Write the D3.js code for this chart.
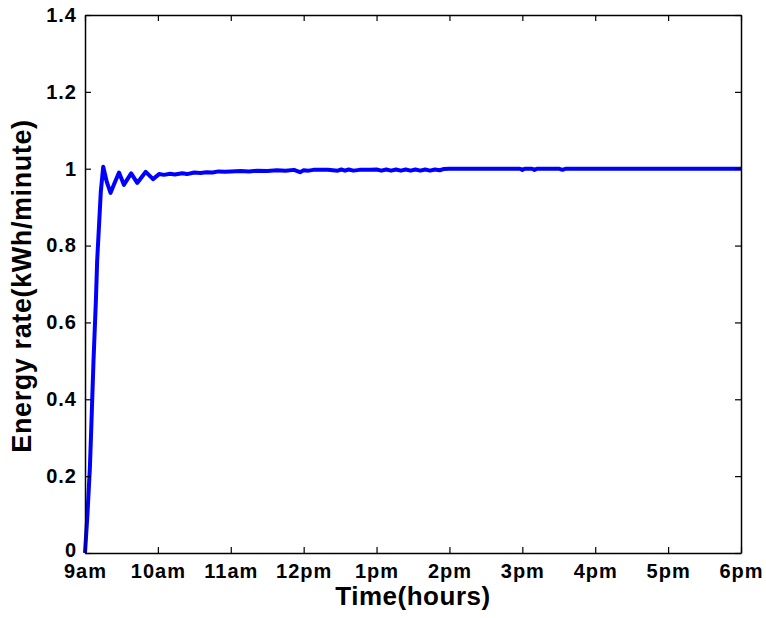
<!DOCTYPE html>
<html>
<head>
<meta charset="utf-8">
<script src="https://cdn.jsdelivr.net/npm/d3@7"></script>
<style>
  body { margin: 0; background: #fff; }
  text { font-family: "Liberation Sans", Arial, sans-serif; font-weight: bold; }
</style>
</head>
<body>
<svg id="canvas" width="766" height="618"></svg>
<script>
// minutes after 9am
let minutes = [0, 2, 4, 5, 7, 9, 10, 13, 15, 18, 21, 24, 28, 32, 38, 43, 50, 56, 61, 65,
  70, 74, 80, 84, 90, 95, 100, 105, 110, 115, 120, 128, 135, 142, 150, 158, 165, 172,
  177, 180, 184, 188, 192, 200, 208, 211, 214, 217, 221, 226, 235, 240, 244, 248, 252,
  256, 260, 264, 268, 272, 276, 280, 284, 288, 292, 295, 300, 330, 358, 360, 362, 368,
  370, 372, 390, 393, 396, 420, 480, 540];
let energyRate = [0, 0.1, 0.22, 0.31, 0.5, 0.66, 0.76, 0.94, 1.005, 0.965, 0.937, 0.96,
  0.99, 0.958, 0.988, 0.963, 0.992, 0.973, 0.986, 0.984, 0.987, 0.985, 0.988, 0.986,
  0.99, 0.989, 0.991, 0.99, 0.993, 0.992, 0.993, 0.994, 0.993, 0.995, 0.994, 0.996,
  0.995, 0.997, 0.991, 0.996, 0.995, 0.997, 0.997, 0.997, 0.995, 0.998, 0.995, 0.998,
  0.995, 0.997, 0.997, 0.998, 0.995, 0.998, 0.995, 0.998, 0.995, 0.998, 0.995, 0.998,
  0.995, 0.998, 0.995, 0.998, 0.996, 0.999, 1.0, 1.0, 1.0, 0.997, 1.0, 1.0, 0.997, 1.0,
  1.0, 0.997, 1.0, 1.0, 1.0, 1.0];

let xTickLabels = ['9am', '10am', '11am', '12pm', '1pm', '2pm', '3pm', '4pm', '5pm', '6pm'];
let xTickValues = [0, 60, 120, 180, 240, 300, 360, 420, 480, 540];
let yTickValues = [0, 0.2, 0.4, 0.6, 0.8, 1, 1.2, 1.4];

let canvas = d3.select('#canvas');

let plotLeft = 85, plotRight = 741, plotTop = 15, plotBottom = 553;

let xScale = d3.scaleLinear().domain([0, 540]).range([plotLeft, plotRight]);
let yScale = d3.scaleLinear().domain([0, 1.4]).range([plotBottom, plotTop]);

let points = minutes.map((m, i) => [m, energyRate[i]]);

let line = d3.line()
  .x((d) => xScale(d[0]))
  .y((d) => yScale(d[1]));

canvas.append('path')
  .datum(points)
  .attr('d', line)
  .attr('fill', 'none')
  .attr('stroke', '#0000ff')
  .attr('stroke-width', 4)
  .attr('stroke-linejoin', 'round');

// axes, ticks pointing inwards on all four sides
let xAxisBottom = d3.axisBottom(xScale)
  .tickValues(xTickValues)
  .tickSizeInner(-6)
  .tickSizeOuter(0)
  .tickPadding(11)
  .tickFormat((d, i) => xTickLabels[i]);

let xAxisTop = d3.axisTop(xScale)
  .tickValues(xTickValues)
  .tickSizeInner(-6)
  .tickSizeOuter(0)
  .tickFormat('');

let yAxisLeft = d3.axisLeft(yScale)
  .tickValues(yTickValues)
  .tickSizeInner(-6)
  .tickSizeOuter(0)
  .tickPadding(8)
  .tickFormat((d) => String(d));

let yAxisRight = d3.axisRight(yScale)
  .tickValues(yTickValues)
  .tickSizeInner(-6)
  .tickSizeOuter(0)
  .tickFormat('');

let styleAxis = (g) => {
  g.select('.domain').attr('stroke', '#000').attr('stroke-width', 1.5);
  g.selectAll('.tick line').attr('stroke', '#000').attr('stroke-width', 1.2);
  g.selectAll('.tick text')
    .attr('fill', '#000')
    .style('font-size', '20px')
    .style('letter-spacing', '1px')
    .style('font-weight', 'bold')
    .style('font-family', '"Liberation Sans", Arial, sans-serif');
};

canvas.append('g').attr('transform', 'translate(0,' + plotBottom + ')').call(xAxisBottom).call(styleAxis);
canvas.append('g').attr('transform', 'translate(0,' + plotTop + ')').call(xAxisTop).call(styleAxis);
let yAxisG = canvas.append('g').attr('transform', 'translate(' + plotLeft + ',0)').call(yAxisLeft).call(styleAxis);
canvas.append('g').attr('transform', 'translate(' + plotRight + ',0)').call(yAxisRight).call(styleAxis);

// lift the "0" label a little so it clears "9am"
yAxisG.selectAll('.tick text').filter((d) => d === 0).attr('y', -3);

canvas.append('text')
  .text('Time(hours)')
  .attr('x', 413)
  .attr('y', 605)
  .attr('text-anchor', 'middle')
  .style('font-size', '26px')
  .style('letter-spacing', '0.5px');

canvas.append('text')
  .text('Energy rate(kWh/minute)')
  .attr('transform', 'translate(31,286) rotate(-90)')
  .attr('text-anchor', 'middle')
  .style('font-size', '27px')
  .style('letter-spacing', '0.6px');
</script>
</body>
</html>
